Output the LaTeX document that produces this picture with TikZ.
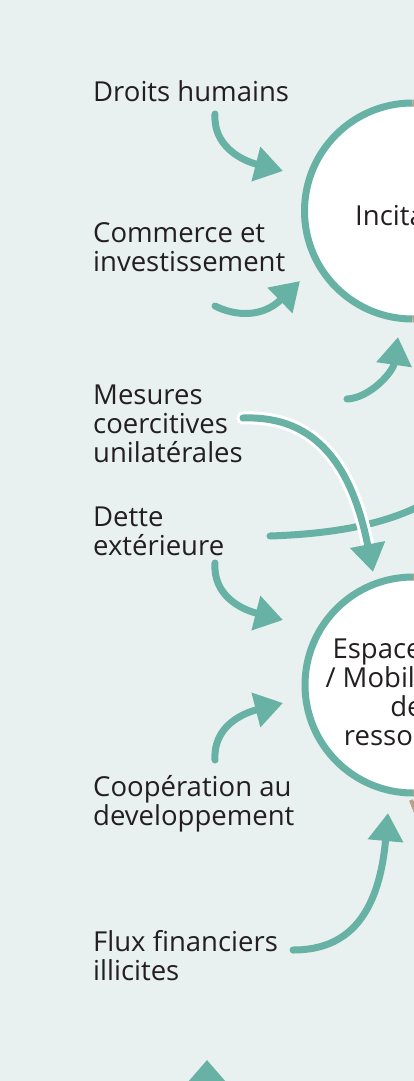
\documentclass[tikz,border=0pt]{standalone}
\usepackage{fontspec}
\setmainfont{Open Sans}
\usetikzlibrary{arrows.meta}
\definecolor{bg}{HTML}{E8F1EF}
\definecolor{tealc}{HTML}{67B2A4}
\definecolor{brownc}{HTML}{B9A08A}
\definecolor{ink}{HTML}{231F20}
\begin{document}
\begin{tikzpicture}[x=1pt,y=-1pt,
  lbl/.style={anchor=base west, inner sep=0pt, text=ink, align=left,
    font=\fontsize{27.5}{29}\selectfont},
  ctxt/.style={inner sep=0pt, text=ink, align=center,
    font=\fontsize{27.5}{29}\selectfont},
  circ/.style={circle, minimum size=216pt, inner sep=0pt, outer sep=0pt, fill=white},
  ring/.style={line width=7pt},
  conn/.style={draw=tealc, line width=7pt, line cap=round,
    -{Triangle[length=28pt,width=34pt]}},
  plain/.style={draw=tealc, line width=7pt, line cap=round},
  halo/.style={draw=white, line width=13pt, line cap=round, shorten >=27pt}]
\useasboundingbox (0,0) rectangle (414,1081);
\fill[bg] (0,0) rectangle (414,1081);
\begin{scope}
\clip (0,0) rectangle (414,1081);
% circles
\node[circ] (inc) at (412.5,211) {};
\draw[ring, tealc] (inc.north) arc[start angle=90, end angle=270, radius=108pt];
\draw[ring, brownc] (inc.south) arc[start angle=-90, end angle=90, radius=108pt];
\node[circ] (esp) at (413,685) {};
\draw[ring, tealc] (esp.north) arc[start angle=90, end angle=270, radius=108pt];
\draw[ring, brownc] (esp.south) arc[start angle=-90, end angle=90, radius=108pt];
\node[lbl] (inctxt) at (355,225) {Incitations};
\node[ctxt, anchor=base] (esptxt) at (413,745) {Espace fiscal\\/ Mobilisation\\des\\ressources};
\coordinate (b1) at (411,800);
\coordinate (b2) at (417,815);
\draw[brownc, line width=4pt] (b1) -- (b2);
% labels (anchored at the baseline of the last line)
\node[lbl] (droits) at (93,101) {Droits humains};
\node[lbl] (commerce) at (93,271) {Commerce et\\investissement};
\node[lbl] (mesures) at (93,462) {Mesures\\coercitives\\unilatérales};
\node[lbl] (dette) at (93,555) {Dette\\extérieure};
\node[lbl] (coop) at (93,825) {Coopération au\\developpement};
\node[lbl] (flux) at (93,980) {Flux financiers\\illicites};
% connector ends
\coordinate (t1) at (215,114); \coordinate (h1) at (283,171);
\coordinate (t2) at (215,306); \coordinate (h2) at (300,281);
\coordinate (t3) at (347,399); \coordinate (h3) at (398,337);
\coordinate (t4) at (243,418); \coordinate (h4) at (373,572);
\coordinate (t5) at (270,536); \coordinate (h5) at (432,499);
\coordinate (t6) at (215,563); \coordinate (h6) at (283,620);
\coordinate (t7) at (215,760); \coordinate (h7) at (283,703);
\coordinate (t8) at (293,950); \coordinate (h8) at (388,813);
\coordinate (t9) at (207,1130); \coordinate (h9) at (207,1060);
% connectors
\draw[conn] (t1) .. controls (213,145) and (240,160) .. (h1);
\draw[conn] (t2) .. controls (235,316) and (262,318) .. (h2);
\draw[conn] (t3) .. controls (370,398) and (393,372) .. (h3);
\draw[plain] (t5) .. controls (330,534) and (390,525) .. (h5);
\draw[halo] (t4) .. controls (300,416) and (348,445) .. (h4);
\draw[conn] (t4) .. controls (300,416) and (348,445) .. (h4);
\draw[conn] (t6) .. controls (213,595) and (240,609) .. (h6);
\draw[conn] (t7) .. controls (213,728) and (240,714) .. (h7);
\draw[conn] (t8) .. controls (340,950) and (378,925) .. (h8);
\draw[draw=tealc, line width=7pt, -{Triangle[length=24pt,width=40pt]}] (t9) -- (h9);
\end{scope}
\end{tikzpicture}
\end{document}
